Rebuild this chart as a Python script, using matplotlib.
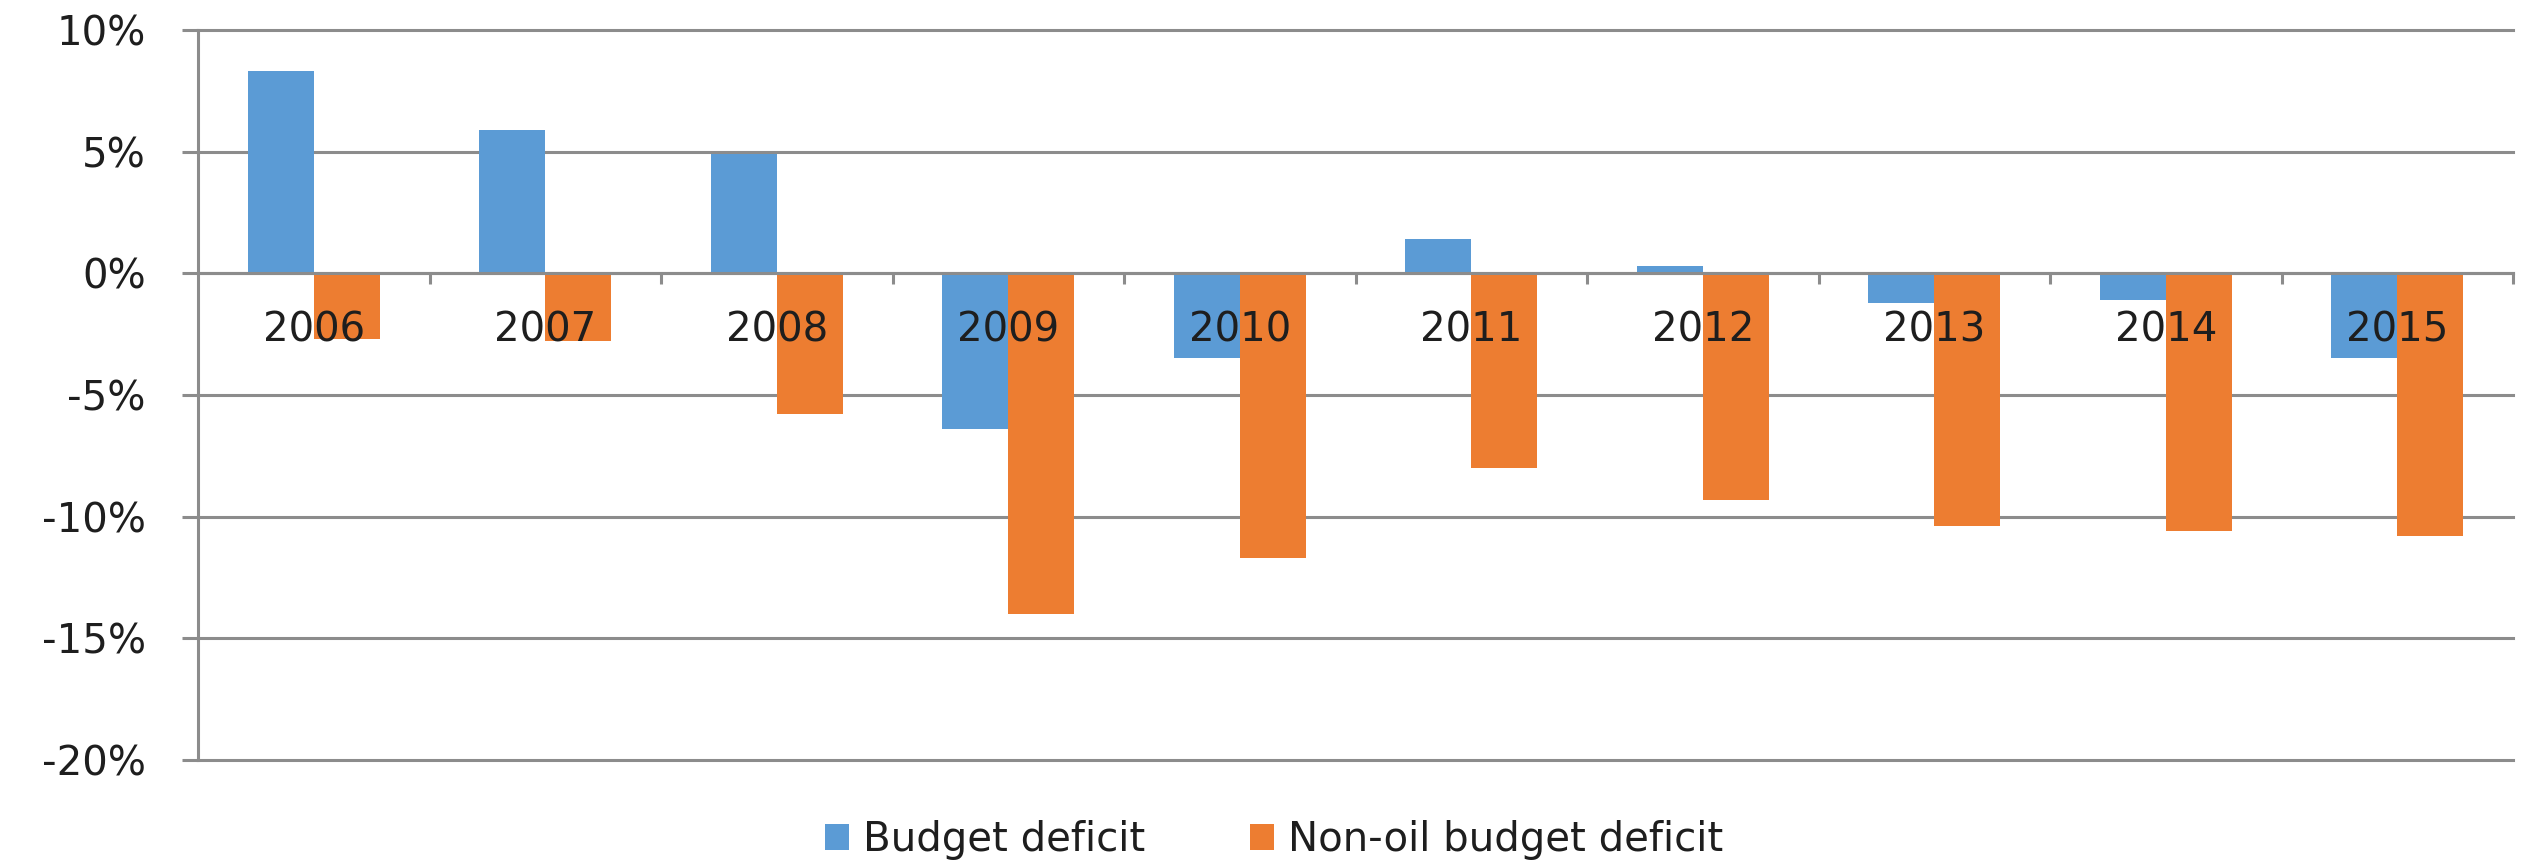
import matplotlib
matplotlib.use("Agg")
import matplotlib.pyplot as plt
import numpy as np
from matplotlib.ticker import FixedLocator, FuncFormatter
from matplotlib.patches import Patch

years = ["2006", "2007", "2008", "2009", "2010", "2011", "2012", "2013", "2014", "2015"]
budget_deficit = [8.3, 5.9, 4.9, -6.4, -3.5, 1.4, 0.3, -1.2, -1.1, -3.5]
non_oil_deficit = [-2.7, -2.8, -5.8, -14.0, -11.7, -8.0, -9.3, -10.4, -10.6, -10.8]
y_ticks = [10, 5, 0, -5, -10, -15, -20]
series_names = ["Budget deficit", "Non-oil budget deficit"]

BLUE = "#5B9BD5"
ORANGE = "#ED7D31"
GRID = "#8C8C8C"
TEXT = "#1E1E1E"
FS = 29

plt.rcParams["font.family"] = ["DejaVu Sans"]

fig = plt.figure(figsize=(25.26, 8.61), dpi=100)
ax = fig.add_axes([0.0784, 0.1173, 0.9165, 0.8479])

x = np.arange(len(years))
w = 0.285

# horizontal gridlines beneath the bars
for t in y_ticks:
    ax.axhline(t, color=GRID, lw=2.2, zorder=0.3, clip_on=False)

ax.bar(x - w / 2, budget_deficit, width=w, color=BLUE, zorder=1)
ax.bar(x + w / 2, non_oil_deficit, width=w, color=ORANGE, zorder=1)

ax.set_xlim(-0.5, len(years) - 0.5)
ax.set_ylim(-20, 10)

for s in ["top", "right"]:
    ax.spines[s].set_visible(False)
ax.spines["bottom"].set_position(("data", 0))
ax.spines["bottom"].set_color(GRID)
ax.spines["bottom"].set_linewidth(2.2)
ax.spines["left"].set_color(GRID)
ax.spines["left"].set_linewidth(2.2)

# category labels just under the zero line, drawn on top of the bars
ax.set_xticks(x)
ax.set_xticklabels(years)
ax.xaxis.set_minor_locator(FixedLocator(np.arange(0.5, len(years), 1.0)))
ax.tick_params(axis="x", which="major", length=0, pad=27, labelsize=FS, labelcolor=TEXT)
ax.tick_params(axis="x", which="minor", length=8, width=2.2, color=GRID, direction="out")

ax.set_yticks(y_ticks)
ax.yaxis.set_major_formatter(FuncFormatter(lambda v, p: f"{int(v)}%"))
ax.tick_params(axis="y", length=11.5, width=2.2, color=GRID, direction="out",
               pad=26, labelsize=FS, labelcolor=TEXT)
ax.set_axisbelow(False)

handles = [Patch(facecolor=BLUE, label=series_names[0]),
           Patch(facecolor=ORANGE, label=series_names[1])]
fig.legend(handles=handles, loc="center", bbox_to_anchor=(0.5045, 0.0244), ncol=2,
           frameon=False, fontsize=FS, handlelength=0.6, handleheight=0.6,
           handletextpad=0.35, columnspacing=2.6, labelcolor=TEXT)

fig.savefig("out.png", dpi=100)
